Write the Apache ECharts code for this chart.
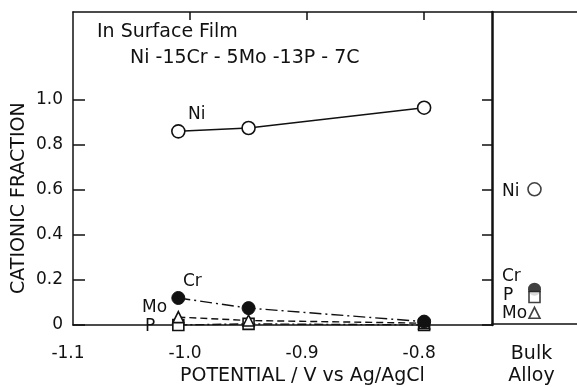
<!DOCTYPE html>
<html>
<head>
<meta charset="utf-8">
<script src="https://cdn.jsdelivr.net/npm/echarts@6/dist/echarts.min.js"></script>
<style>
  html, body { margin: 0; padding: 0; background: #fff; }
  #chart { width: 577px; height: 387px; }
</style>
</head>
<body>
<div id="chart"></div>
<script>
// film composition vs potential
var potentials = [-1.01, -0.95, -0.80];
var niFilm = [0.86, 0.875, 0.965];
var crFilm = [0.12, 0.075, 0.015];
var moFilm = [0.035, 0.02, 0.008];
var pFilm = [0.0, 0.005, 0.0];

// bulk alloy composition
var bulkCategory = ['Bulk\nAlloy'];
var bulkNi = [0.6];
var bulkCr = [0.155];
var bulkP = [0.12];
var bulkMo = [0.05];

var xTicks = [-1.1, -1.0, -0.9, -0.8];
var xTopTicks = [-1.0, -0.9, -0.8];
var yTicks = [0, 0.2, 0.4, 0.6, 0.8, 1.0];

var font = 'DejaVu Sans';
var ink = '#111';

function pairs(xs, ys) {
    return xs.map(function (x, i) { return [x, ys[i]]; });
}

function txt(s, left, top, size) {
    return { type: 'text', left: left, top: top, style: { text: s, font: size + 'px "DejaVu Sans"', fill: ink } };
}

var chart = echarts.init(document.getElementById('chart'));

var filmX = { min: -1.1, max: -0.742 };
var fracY = { min: 0, max: 1.39 };

chart.setOption({
    backgroundColor: '#fff',
    animation: false,
    textStyle: { fontFamily: font, color: ink },
    grid: [
        { left: 73, top: 12, width: 419, height: 313 },
        { left: 492, top: 12, width: 95, height: 313 }
    ],
    xAxis: [
        {
            type: 'value', gridIndex: 0, position: 'bottom', min: filmX.min, max: filmX.max,
            splitLine: { show: false },
            axisLine: { onZero: false, lineStyle: { color: ink, width: 1.5 } },
            axisTick: { show: false },
            axisLabel: {
                customValues: xTicks, margin: 20, fontSize: 17, color: ink, fontFamily: font,
                padding: [0, 10, 0, 0],
                formatter: function (v) { return v.toFixed(1); }
            }
        },
        {
            type: 'value', gridIndex: 0, position: 'top', min: filmX.min, max: filmX.max,
            splitLine: { show: false },
            axisLine: { onZero: false, lineStyle: { color: ink, width: 1.5 } },
            axisTick: { inside: true, length: 8, customValues: xTopTicks, lineStyle: { color: ink, width: 1.5 } },
            axisLabel: { show: false }
        },
        {
            type: 'category', gridIndex: 1, position: 'bottom', data: bulkCategory,
            axisLine: { onZero: false, lineStyle: { color: ink, width: 1.5 } },
            axisTick: { show: false },
            axisLabel: { margin: 19, fontSize: 19, lineHeight: 22, color: ink, fontFamily: font, padding: [0, 6, 0, 0] }
        },
        {
            type: 'category', gridIndex: 1, position: 'top', data: bulkCategory,
            axisLine: { onZero: false, lineStyle: { color: ink, width: 1.5 } },
            axisTick: { show: false },
            axisLabel: { show: false }
        }
    ],
    yAxis: [
        {
            type: 'value', gridIndex: 0, position: 'left', min: fracY.min, max: fracY.max,
            splitLine: { show: false },
            axisLine: { onZero: false, lineStyle: { color: ink, width: 1.5 } },
            axisTick: { inside: true, length: 12, customValues: yTicks, lineStyle: { color: ink, width: 1.5 } },
            axisLabel: {
                customValues: yTicks, margin: 10, fontSize: 17, color: ink, fontFamily: font,
                formatter: function (v) { return v === 0 ? '0' : v.toFixed(1); }
            }
        },
        {
            type: 'value', gridIndex: 0, position: 'right', min: fracY.min, max: fracY.max,
            splitLine: { show: false },
            axisLine: { onZero: false, lineStyle: { color: ink, width: 2.5 } },
            axisTick: { inside: true, length: 10, customValues: yTicks, lineStyle: { color: ink, width: 1.5 } },
            axisLabel: { show: false }
        },
        {
            type: 'value', gridIndex: 1, position: 'right', min: fracY.min, max: fracY.max,
            splitLine: { show: false },
            axisLine: { onZero: false, lineStyle: { color: ink, width: 1.5 } },
            axisTick: { inside: true, length: 14, customValues: yTicks, lineStyle: { color: ink, width: 1.5 } },
            axisLabel: { show: false }
        }
    ],
    series: [
        {
            name: 'P', type: 'line', xAxisIndex: 0, yAxisIndex: 0,
            data: pairs(potentials, pFilm),
            symbol: 'rect', symbolSize: 11,
            itemStyle: { color: '#fff', borderColor: ink, borderWidth: 1.6 },
            lineStyle: { color: ink, width: 1.4, type: [9, 3, 2, 3] }
        },
        {
            name: 'Mo', type: 'line', xAxisIndex: 0, yAxisIndex: 0,
            data: pairs(potentials, moFilm),
            symbol: 'triangle', symbolSize: 11,
            itemStyle: { color: '#fff', borderColor: ink, borderWidth: 1.6 },
            lineStyle: { color: ink, width: 1.4, type: [7, 4] }
        },
        {
            name: 'Cr', type: 'line', xAxisIndex: 0, yAxisIndex: 0,
            data: pairs(potentials, crFilm),
            symbol: 'circle', symbolSize: 13,
            itemStyle: { color: ink, borderColor: ink, borderWidth: 1 },
            lineStyle: { color: ink, width: 1.4, type: [12, 4, 2, 4] }
        },
        {
            name: 'Ni', type: 'line', xAxisIndex: 0, yAxisIndex: 0,
            data: pairs(potentials, niFilm),
            symbol: 'circle', symbolSize: 13,
            itemStyle: { color: '#fff', borderColor: ink, borderWidth: 1.6 },
            lineStyle: { color: ink, width: 1.5 }
        },
        {
            name: 'Bulk P', type: 'scatter', xAxisIndex: 2, yAxisIndex: 2,
            data: bulkP, symbol: 'rect', symbolSize: 11,
            itemStyle: { color: '#fff', borderColor: ink, borderWidth: 1.6 }
        },
        {
            name: 'Bulk Cr', type: 'scatter', xAxisIndex: 2, yAxisIndex: 2,
            data: bulkCr, symbol: 'circle', symbolSize: 13, z: 1,
            itemStyle: { color: ink }
        },
        {
            name: 'Bulk Mo', type: 'scatter', xAxisIndex: 2, yAxisIndex: 2,
            data: bulkMo, symbol: 'triangle', symbolSize: 11,
            itemStyle: { color: '#fff', borderColor: ink, borderWidth: 1.6 }
        },
        {
            name: 'Bulk Ni', type: 'scatter', xAxisIndex: 2, yAxisIndex: 2,
            data: bulkNi, symbol: 'circle', symbolSize: 13,
            itemStyle: { color: '#fff', borderColor: ink, borderWidth: 1.6 }
        }
    ],
    graphic: [
        txt('In Surface Film', 97, 23, 19),
        txt('Ni -15Cr - 5Mo -13P - 7C', 130, 49, 19),
        txt('Ni', 188, 106, 17),
        txt('Cr', 183, 273, 17),
        txt('Mo', 142, 299, 17),
        txt('P', 145, 318, 17),
        txt('Ni', 502, 183, 17),
        txt('Cr', 502, 268, 17),
        txt('P', 503, 287, 17),
        txt('Mo', 502, 305, 17),
        {
            type: 'text', x: 10, y: 294, rotation: Math.PI / 2,
            style: { text: 'CATIONIC FRACTION', font: '19px "DejaVu Sans"', fill: ink }
        },
        txt('POTENTIAL / V vs Ag/AgCl', 180, 367, 19)
    ]
});
</script>
</body>
</html>
